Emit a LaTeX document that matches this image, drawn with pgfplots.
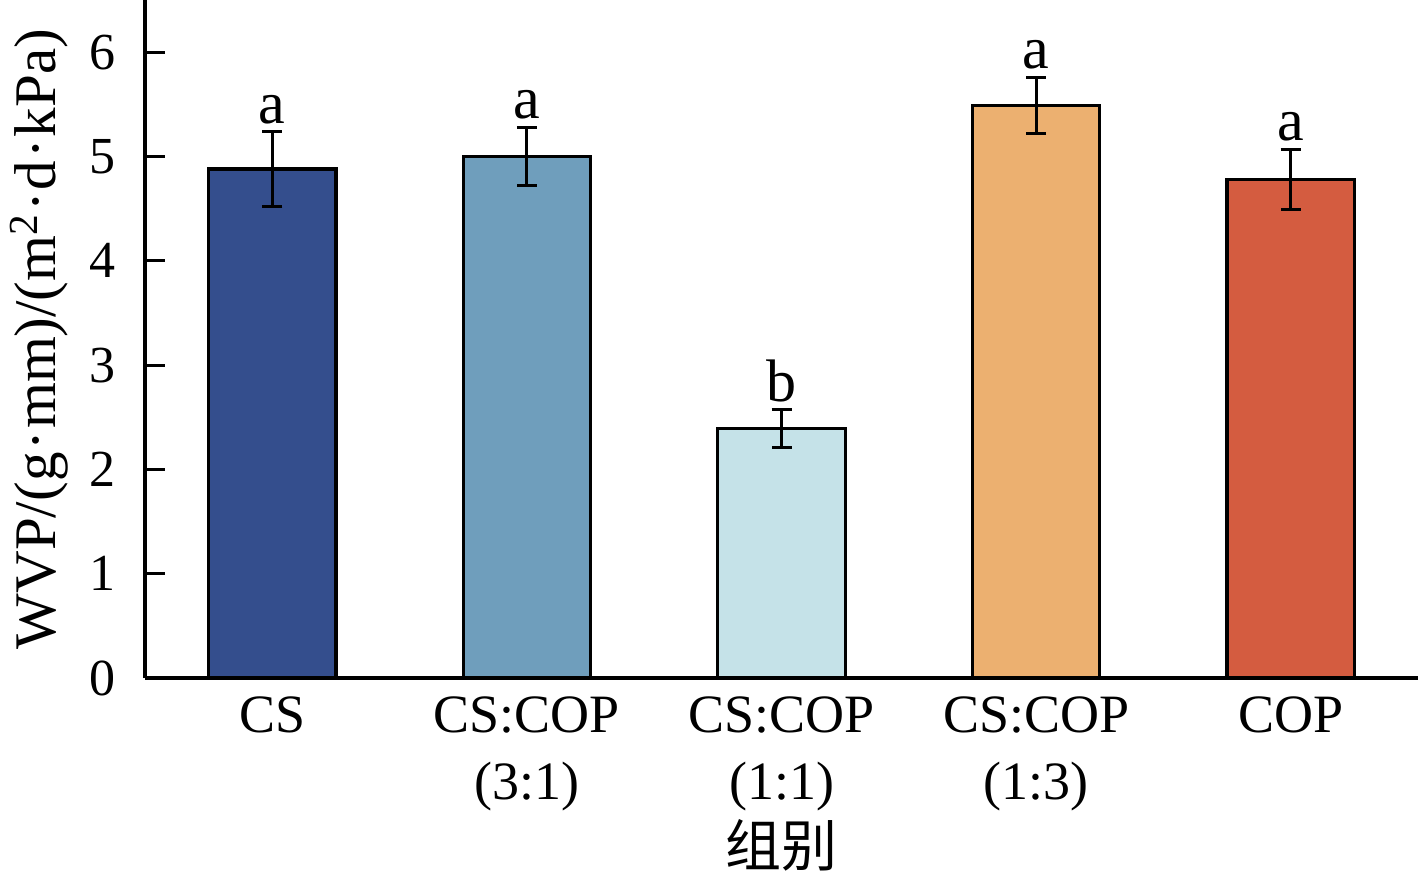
\documentclass[border=0pt]{standalone}
\usepackage{pgfplots}
\pgfplotsset{compat=1.18}
\usepackage{fontspec}
\setmainfont{Liberation Serif}
\newfontfamily\cjk{Noto Sans CJK SC}
\definecolor{c1}{RGB}{52,78,141}
\definecolor{c2}{RGB}{111,158,188}
\definecolor{c3}{RGB}{197,226,232}
\definecolor{c4}{RGB}{236,176,112}
\definecolor{c5}{RGB}{212,92,64}
\newcommand{\md}{\kern1pt·\kern1pt}
\begin{document}
\begin{tikzpicture}
\path[use as bounding box] (-72.5pt,-100pt) rectangle (636.5pt,339pt);
\begin{axis}[
  scale only axis, width=636.5pt, height=339pt,
  xmin=-0.5, xmax=4.5, ymin=0, ymax=6.5,
  axis x line=bottom, axis y line=left,
  axis line style={-, line width=1.7pt},
  xtick={0,1,2,3,4},
  xticklabels={CS,{CS:COP\\(3:1)},{CS:COP\\(1:1)},{CS:COP\\(1:3)},COP},
  xticklabel style={align=center, font=\fontsize{27}{33.5}\selectfont, yshift=4pt},
  x tick style={draw=none},
  ytick={0,1,2,3,4,5,6},
  tick align=inside,
  major tick length=10pt,
  y tick style={line width=1.5pt, black},
  yticklabel style={font=\fontsize{26}{30}\selectfont, xshift=-11pt},
  /pgf/number format/assume math mode=true,
  ylabel={WVP/(g\md mm)/(m\textsuperscript{2}\md d\md kPa)},
  ylabel style={font=\fontsize{29.5}{32}\selectfont, at={(axis description cs:0,0.5)}, anchor=north, yshift=71pt},
  xlabel={\cjk 组别},
  xlabel style={font=\fontsize{28}{30}\selectfont, at={(axis description cs:0.5,0)}, anchor=south, yshift=-100pt},
  ybar, bar width=0.5, bar shift=0pt,
  every axis plot/.append style={line width=1.6pt},
  error bars/y dir=both, error bars/y explicit,
  error bars/error mark options={rotate=90, mark size=5pt, line width=1.5pt, black},
  error bars/error bar style={line width=1.5pt, black},
  clip=false,
]
\addplot[fill=c1, draw=black] coordinates {(0,4.88) +- (0,0.36)};
\addplot[fill=c2, draw=black] coordinates {(1,5.00) +- (0,0.28)};
\addplot[fill=c3, draw=black] coordinates {(2,2.39) +- (0,0.18)};
\addplot[fill=c4, draw=black] coordinates {(3,5.49) +- (0,0.27)};
\addplot[fill=c5, draw=black] coordinates {(4,4.78) +- (0,0.29)};
\addplot[draw=none, fill=none, forget plot, nodes near coords, point meta=explicit symbolic,
  nodes near coords style={anchor=south, font=\fontsize{30}{32}\selectfont, inner sep=2pt, black},
  error bars/y dir=none]
  table[meta=lab] {
x y lab
0 5.26 a
1 5.30 a
2 2.59 b
3 5.78 a
4 5.09 a
};
\end{axis}
\end{tikzpicture}
\end{document}
